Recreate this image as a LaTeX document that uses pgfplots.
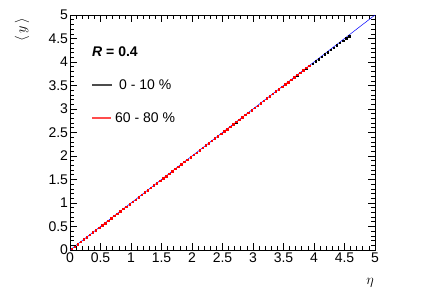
\documentclass[border=0pt]{standalone}
\usepackage{fontspec}
\setmainfont{Liberation Sans}
\usepackage{pgfplots}
\pgfplotsset{compat=1.18}
\begin{document}
\begin{tikzpicture}[x=1pt,y=1pt]
\useasboundingbox (-70,-49) rectangle (371,250);
\begin{axis}[
  at={(0,0)}, anchor=south west,
  scale only axis, width=305pt, height=235pt,
  xmin=0, xmax=5, ymin=0, ymax=5,
  xtick={0,0.5,...,5}, ytick={0,0.5,...,5},
  xticklabels={0,0.5,1,1.5,2,2.5,3,3.5,4,4.5,5},
  yticklabels={0,0.5,1,1.5,2,2.5,3,3.5,4,4.5,5},
  minor tick num=4,
  tick align=inside,
  major tick length=7pt, minor tick length=3.5pt,
  tick style={black, line width=0.6pt},
  axis line style={line width=0.8pt},
  ticklabel style={font=\fontsize{14}{16}\selectfont},
  /pgf/number format/assume math mode=true,
  xticklabel style={yshift=1pt},
  yticklabel style={xshift=1.5pt},
  clip=false,
]
\addplot[only marks, mark=square*, mark size=0.75pt, black] table {
x y
0.025 0.026
0.075 0.076
0.125 0.126
0.175 0.176
0.225 0.226
0.275 0.276
0.325 0.325
0.375 0.375
0.425 0.425
0.475 0.475
0.525 0.525
0.575 0.575
0.625 0.625
0.675 0.675
0.725 0.725
0.775 0.775
0.825 0.825
0.875 0.875
0.925 0.925
0.975 0.975
1.025 1.025
1.075 1.075
1.125 1.125
1.175 1.175
1.225 1.225
1.275 1.275
1.325 1.325
1.375 1.375
1.425 1.425
1.475 1.475
1.525 1.525
1.575 1.575
1.625 1.625
1.675 1.675
1.725 1.725
1.775 1.775
1.825 1.825
1.875 1.875
1.925 1.925
1.975 1.975
2.025 2.025
2.075 2.075
2.125 2.125
2.175 2.175
2.225 2.225
2.275 2.275
2.325 2.325
2.375 2.375
2.425 2.425
2.475 2.475
2.525 2.525
2.575 2.575
2.625 2.624
2.675 2.674
2.725 2.724
2.775 2.774
2.825 2.824
2.875 2.874
2.925 2.924
2.975 2.974
3.025 3.023
3.075 3.073
3.125 3.123
3.175 3.173
3.225 3.223
3.275 3.273
3.325 3.322
3.375 3.372
3.425 3.422
3.475 3.472
3.525 3.521
3.575 3.571
3.625 3.620
3.675 3.670
3.725 3.719
3.775 3.768
3.825 3.818
3.875 3.867
3.925 3.916
3.975 3.965
4.025 4.014
4.075 4.063
4.125 4.112
4.175 4.161
4.225 4.210
4.275 4.259
4.325 4.308
4.375 4.357
4.425 4.406
4.475 4.455
4.525 4.504
4.575 4.553
};
\addplot[only marks, mark=square*, mark size=0.75pt, red] table {
x y
0.025 0.025
0.075 0.075
0.125 0.125
0.175 0.175
0.225 0.225
0.275 0.275
0.325 0.325
0.375 0.375
0.425 0.425
0.475 0.475
0.525 0.525
0.575 0.575
0.625 0.625
0.675 0.675
0.725 0.725
0.775 0.775
0.825 0.825
0.875 0.875
0.925 0.925
0.975 0.975
1.025 1.025
1.075 1.075
1.125 1.125
1.175 1.175
1.225 1.225
1.275 1.275
1.325 1.325
1.375 1.375
1.425 1.425
1.475 1.475
1.525 1.525
1.575 1.575
1.625 1.625
1.675 1.675
1.725 1.725
1.775 1.775
1.825 1.825
1.875 1.875
1.925 1.925
1.975 1.975
2.025 2.025
2.075 2.075
2.125 2.125
2.175 2.175
2.225 2.225
2.275 2.275
2.325 2.325
2.375 2.375
2.425 2.425
2.475 2.475
2.525 2.525
2.575 2.575
2.625 2.625
2.675 2.675
2.725 2.725
2.775 2.775
2.825 2.825
2.875 2.875
2.925 2.925
2.975 2.975
3.025 3.025
3.075 3.075
3.125 3.125
3.175 3.175
3.225 3.225
3.275 3.275
3.325 3.325
3.375 3.375
3.425 3.425
3.475 3.475
3.525 3.525
3.575 3.575
3.625 3.625
3.675 3.675
3.725 3.725
3.775 3.775
3.825 3.825
3.875 3.874
3.925 3.924
};
\addplot[blue, line width=0.5pt] coordinates {(0,0) (5,5)};
\end{axis}
\node[anchor=west, inner sep=0pt, font=\fontsize{14}{16}\selectfont\bfseries] at (22,198) {\textit{R} = 0.4};
\draw[black!70, line width=1.2pt] (22,165) -- (42,165);
\node[anchor=west, inner sep=0pt, font=\fontsize{14}{16}\selectfont] at (49,165) {0 - 10 \%};
\draw[red!70, line width=1.2pt] (22,132) -- (41,132);
\node[anchor=west, inner sep=0pt, font=\fontsize{14}{16}\selectfont] at (45,132) {60 - 80 \%};
\node[rotate=90, font=\fontsize{15}{17}\selectfont] at (-48,220) {$\langle\, y \,\rangle$};
\node[font=\fontsize{15}{17}\selectfont] at (300,-33) {$\eta$};
\end{tikzpicture}
\end{document}
